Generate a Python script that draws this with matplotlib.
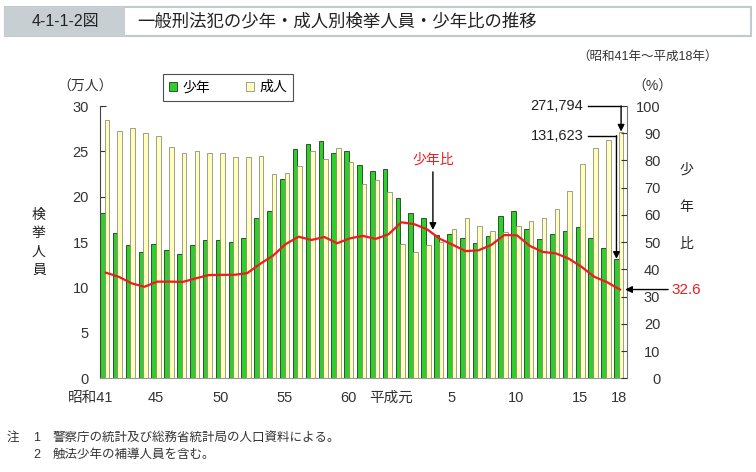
import matplotlib
matplotlib.use("Agg")
import matplotlib.pyplot as plt
import matplotlib.transforms as mtransforms
from matplotlib.patches import Rectangle, Patch
import numpy as np

plt.rcParams['font.family'] = ['Liberation Sans', 'Noto Sans CJK JP']

# 昭和41年～平成18年 (41 years), 万人
juvenile = [18.18, 16.0, 14.7, 13.9, 14.8, 14.1, 13.7, 14.65, 15.2, 15.2, 15.0, 15.45,
            17.7, 18.4, 21.96, 25.3, 25.8, 26.1, 24.85, 25.0, 23.5, 22.8, 23.1,
            19.9, 18.2, 17.7, 15.8, 15.85, 15.5, 14.9, 15.7, 17.9, 18.4, 16.4, 15.3,
            15.85, 16.2, 16.65, 15.5, 14.4, 13.16]
adult = [28.5, 27.3, 27.6, 27.0, 26.7, 25.5, 24.8, 25.0, 24.8, 24.8, 24.35, 24.4,
         24.45, 22.5, 22.6, 23.35, 25.0, 24.2, 25.4, 23.8, 21.4, 21.8, 20.5,
         14.8, 13.95, 14.65, 15.05, 16.4, 17.7, 16.75, 16.2, 16.1, 16.75, 17.35, 17.7,
         18.7, 20.6, 23.6, 25.4, 26.3, 27.18]
# 少年比 (%)
ratio = [38.8, 37.3, 34.9, 33.6, 35.5, 35.5, 35.4, 36.7, 37.9, 38.0, 38.0, 38.6,
         42.0, 45.0, 49.3, 52.0, 50.8, 51.9, 49.6, 51.4, 52.3, 51.2, 52.9,
         57.3, 56.6, 54.7, 51.2, 49.0, 46.7, 47.0, 49.0, 52.6, 52.5, 48.6, 46.4,
         45.9, 44.0, 41.0, 37.3, 35.3, 32.6]
tick_idx = [0, 4, 9, 14, 19, 23, 27, 32, 37, 40]
tick_labels = ["昭和41", "45", "50", "55", "60", "平成元", "5", "10", "15", "18"]

green = '#2fcf2a'
yellow = '#ffffbb'
red = '#ee1c1c'

W, H = 756, 472
fig = plt.figure(figsize=(W / 100, H / 100), dpi=100)

def fx(px):
    return px / W

def fy(py):
    return 1 - py / H

# title band
fig.patches.append(Rectangle((fx(5), fy(36)), fx(746), 29 / H, transform=fig.transFigure,
                             facecolor='white', edgecolor='#c3cacd', lw=1.5))
fig.patches.append(Rectangle((fx(5), fy(36)), fx(120), 29 / H, transform=fig.transFigure,
                             facecolor='#c8cfd2', edgecolor='none'))
fig.text(fx(65), fy(21.5), "4-1-1-2図", ha='center', va='center', fontsize=11.5, color='#222')
fig.text(fx(137), fy(21.5), "一般刑法犯の少年・成人別検挙人員・少年比の推移",
         ha='left', va='center', fontsize=12.5, color='#222')
fig.text(fx(647), fy(57), "（昭和41年～平成18年）", ha='center', va='center', fontsize=9, color='#333')

ax = fig.add_axes([fx(100), fy(378.3), fx(527), 272.3 / H])
x = np.arange(len(juvenile))
bw = 0.36
ax.bar(x, juvenile, width=bw, align='edge', color=green, edgecolor='#1f3a1f', lw=0.6, zorder=2)
ax.bar(x + bw, adult, width=bw, align='edge', color=yellow, edgecolor='#8f8f80', lw=0.6, zorder=2)
ax.set_xlim(0, 41)
ax.set_ylim(0, 30)
ax.set_yticks(range(0, 31, 5))
ax.set_xticks(np.array(tick_idx) + bw)
ax.set_xticklabels(tick_labels)
ax.tick_params(axis='x', length=0, pad=9, labelsize=10.5, colors='#333')
ax.tick_params(axis='y', direction='in', length=4, pad=8, labelsize=10.5, colors='#333')
# era labels sit a little left of their bars
xlbls = ax.get_xticklabels()
xlbls[0].set_transform(xlbls[0].get_transform() + mtransforms.ScaledTranslation(-14 / 100, 0, fig.dpi_scale_trans))
xlbls[5].set_transform(xlbls[5].get_transform() + mtransforms.ScaledTranslation(-9 / 100, 0, fig.dpi_scale_trans))
ax.spines['top'].set_visible(False)
ax.spines['right'].set_visible(False)
ax.spines['left'].set_color('#444')
ax.spines['bottom'].set_color('#999')

ax2 = ax.twinx()
ax2.plot(x + 0.45, ratio, color=red, lw=1.6, zorder=3)
ax2.set_ylim(0, 100)
ax2.set_yticks(range(0, 101, 10))
ax2.tick_params(axis='y', direction='in', length=4, pad=24, labelsize=10.5, colors='#333')
for lbl in ax2.get_yticklabels():
    lbl.set_horizontalalignment('right')
ax2.spines['top'].set_visible(False)
ax2.spines['left'].set_visible(False)
ax2.spines['bottom'].set_visible(False)
ax2.spines['right'].set_color('#777')

arrow = dict(arrowstyle='-|>', color='black', lw=1, shrinkA=0, shrinkB=0, mutation_scale=10)

# 271,794 / 131,623 call-outs
ax.text(37.6, 30, "271,794", ha='right', va='center', fontsize=10.5, color='#222')
ax.plot([37.95, 40.54], [30, 30], color='black', lw=1, clip_on=False, zorder=5)
ax.annotate('', xy=(40.54, adult[-1]), xytext=(40.54, 30), arrowprops=arrow, annotation_clip=False)
ax.text(37.6, 26.73, "131,623", ha='right', va='center', fontsize=10.5, color='#222')
ax.plot([37.95, 40.18], [26.73, 26.73], color='black', lw=1, clip_on=False, zorder=5)
ax.annotate('', xy=(40.18, juvenile[-1]), xytext=(40.18, 26.73), arrowprops=arrow, annotation_clip=False)

ax2.text(25.9, 80.2, "少年比", ha='center', va='center', fontsize=10, color=red)
ax2.annotate('', xy=(25.9, 54.5), xytext=(25.9, 75.8), arrowprops=arrow)
ax2.annotate('', xy=(40.86, ratio[-1]), xytext=(44.2, ratio[-1]), arrowprops=arrow, annotation_clip=False)
ax2.text(45.6, ratio[-1], "32.6", ha='center', va='center', fontsize=11, color=red, clip_on=False)

# legend
handles = [Patch(facecolor=green, edgecolor='#1f3a1f', lw=0.6),
           Patch(facecolor=yellow, edgecolor='#8f8f80', lw=0.6)]
leg = fig.legend(handles, ["少年", "成人"], ncol=2, loc='upper left',
                 bbox_to_anchor=(fx(162.7), fy(74)), frameon=True, fancybox=False,
                 fontsize=10, handlelength=0.6, handleheight=0.6, handletextpad=0.35,
                 columnspacing=2.6, borderpad=0.45, borderaxespad=0)
leg.get_frame().set_edgecolor('#222')
leg.get_frame().set_linewidth(0.8)

# axis unit labels
fig.text(fx(85), fy(87), "（万人）", ha='center', va='center', fontsize=10, color='#333')
fig.text(fx(652), fy(87), "（%）", ha='center', va='center', fontsize=10, color='#333')
for ch, py in zip("検挙人員", [215, 233, 252, 270]):
    fig.text(fx(39), fy(py), ch, ha='center', va='center', fontsize=10, color='#222')
for ch, py in zip("少年比", [170, 207, 244]):
    fig.text(fx(686), fy(py), ch, ha='center', va='center', fontsize=10, color='#222')

# notes
fig.text(fx(7), fy(438), "注", ha='left', va='center', fontsize=9, color='#333')
fig.text(fx(33), fy(438), "1", ha='left', va='center', fontsize=9, color='#333')
fig.text(fx(53), fy(438), "警察庁の統計及び総務省統計局の人口資料による。", ha='left', va='center', fontsize=9, color='#333')
fig.text(fx(33), fy(455), "2", ha='left', va='center', fontsize=9, color='#333')
fig.text(fx(53), fy(455), "触法少年の補導人員を含む。", ha='left', va='center', fontsize=9, color='#333')

fig.savefig("out.png", dpi=100)
